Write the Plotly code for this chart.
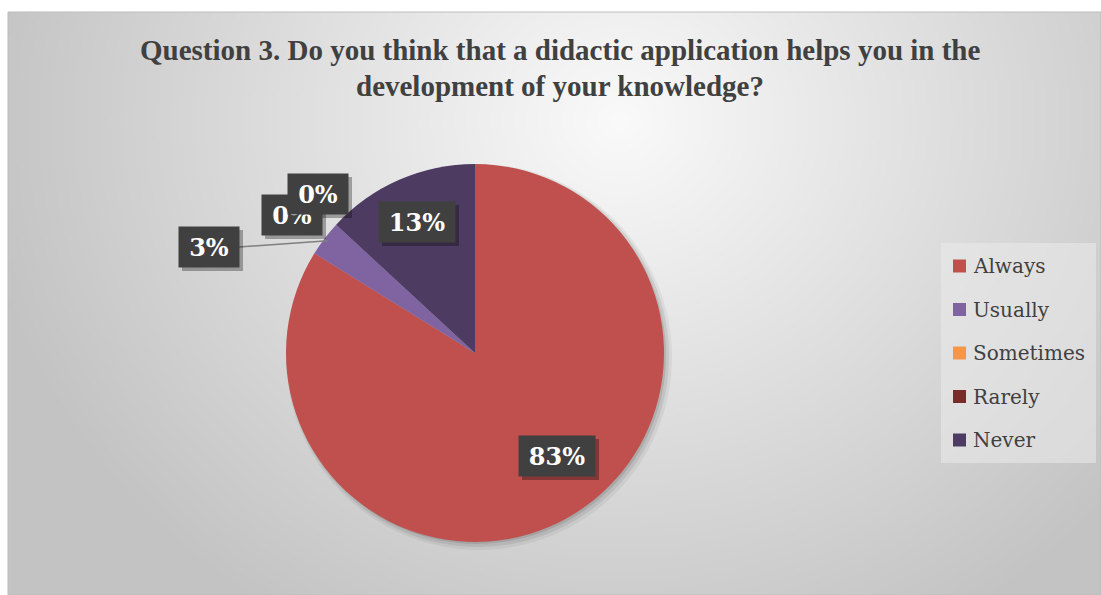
import base64
import struct
import zlib

import numpy as np
import plotly.graph_objects as go

# ---- data -------------------------------------------------------------
labels = ["Always", "Usually", "Sometimes", "Rarely", "Never"]
values = [83, 3, 0, 0, 13]
colors = ["#C0504D", "#8064A2", "#F79646", "#772C2A", "#4D3B62"]
title_lines = [
    "Question 3. Do you think that a didactic application helps you in the",
    "development of your knowledge?",
]

# ---- geometry helpers (pixel -> paper) --------------------------------
W, H = 1101, 595


def px(x):
    return x / W


def py(y):
    return 1 - y / H


CX, CY, R = 475, 353, 189          # pie centre / radius in px
FRAME = (8, 12, 1101, 595)          # chart area rectangle in px


# ---- radial grey background as an inline PNG --------------------------
def gradient_png(w, h):
    xs = np.linspace(FRAME[0], FRAME[2], w)
    ys = np.linspace(FRAME[1], FRAME[3], h)
    X, Y = np.meshgrid(xs, ys)
    t = np.sqrt(((X - 620) / 620) ** 2 + ((Y - 120) / 560) ** 2)
    v = np.clip(250 - 52 * t, 195, 255).astype(np.uint8)
    raw = b"".join(b"\x00" + row.tobytes() for row in v)

    def chunk(tag, data):
        c = struct.pack(">I", len(data)) + tag + data
        return c + struct.pack(">I", zlib.crc32(tag + data) & 0xFFFFFFFF)

    png = (b"\x89PNG\r\n\x1a\n"
           + chunk(b"IHDR", struct.pack(">IIBBBBB", w, h, 8, 0, 0, 0, 0))
           + chunk(b"IDAT", zlib.compress(raw, 9))
           + chunk(b"IEND", b""))
    return "data:image/png;base64," + base64.b64encode(png).decode()


bg_src = gradient_png(364, 194)

fig = go.Figure()

fig.add_trace(go.Pie(
    labels=labels,
    values=values,
    sort=False,
    direction="clockwise",
    rotation=0,
    marker=dict(colors=colors, line=dict(width=0)),
    textinfo="none",
    hoverinfo="skip",
    showlegend=False,
    domain=dict(x=[px(CX - R), px(CX + R)], y=[py(CY + R), py(CY - R)]),
))

shapes = []
annotations = []

# chart frame
shapes.append(dict(type="rect", xref="paper", yref="paper",
                   x0=px(FRAME[0]), x1=px(FRAME[2]), y0=py(FRAME[3]), y1=py(FRAME[1]),
                   line=dict(color="#BDBDBD", width=1), fillcolor="rgba(0,0,0,0)",
                   layer="below"))

# soft drop shadow under the pie
for grow, off, alpha in [(4, 4, 0.05), (2, 3, 0.08), (0, 2, 0.10)]:
    shapes.append(dict(type="circle", xref="paper", yref="paper",
                       x0=px(CX - R - grow + off), x1=px(CX + R + grow + off),
                       y0=py(CY + R + grow + off), y1=py(CY - R - grow + off),
                       line=dict(width=0), fillcolor=f"rgba(0,0,0,{alpha})",
                       layer="below"))

# title
for line, yc in zip(title_lines, [50, 86]):
    annotations.append(dict(text=f"<b>{line}</b>", xref="paper", yref="paper",
                            x=px(560), y=py(yc), xanchor="center", yanchor="middle",
                            showarrow=False,
                            font=dict(family="Liberation Serif", size=29, color="#404040")))

# ---- data labels --------------------------------------------------------
total = float(sum(values))
cum = np.concatenate([[0.0], np.cumsum(values)])
mid_angles = [(cum[i] + values[i] / 2) / total * 2 * np.pi for i in range(len(values))]

# box centres (px) for each label
LABEL_XY = [(557, 456), (209, 247), (292, 215), (318, 194), (417, 222)]
BOX_H = 40

# leader line from the small "Usually" label to its slice edge
a = mid_angles[1]
ex, ey = CX + 0.98 * R * np.sin(a), CY - 0.98 * R * np.cos(a)
lx, ly = LABEL_XY[1]
shapes.append(dict(type="line", xref="paper", yref="paper",
                   x0=px(lx + 30), y0=py(ly), x1=px(ex), y1=py(ey),
                   line=dict(color="#7F7F7F", width=1.5), layer="above"))

for i, (lab, val) in enumerate(zip(labels, values)):
    txt = f"{val}%"
    bx, by = LABEL_XY[i]
    bw = 76 if len(txt) == 3 else 60
    # box shadow
    shapes.append(dict(type="rect", xref="paper", yref="paper",
                       x0=px(bx - bw / 2 + 3), x1=px(bx + bw / 2 + 4),
                       y0=py(by + BOX_H / 2 + 4), y1=py(by - BOX_H / 2 + 3),
                       line=dict(width=0), fillcolor="rgba(0,0,0,0.30)", layer="above"))
    annotations.append(dict(text=f"<b>{txt}</b>", xref="paper", yref="paper",
                            x=px(bx), y=py(by), xanchor="center", yanchor="middle",
                            showarrow=False, width=bw - 10, height=BOX_H - 10, borderpad=5,
                            bgcolor="#404040",
                            font=dict(family="DejaVu Serif", size=24, color="#FFFFFF")))

# ---- legend -------------------------------------------------------------
shapes.append(dict(type="rect", xref="paper", yref="paper",
                   x0=px(941), x1=px(1096), y0=py(463), y1=py(243),
                   line=dict(width=0), fillcolor="rgba(235,235,235,0.55)", layer="below"))
for i, (lab, col) in enumerate(zip(labels, colors)):
    yc = 266 + 43.5 * i
    shapes.append(dict(type="rect", xref="paper", yref="paper",
                       x0=px(953), x1=px(966), y0=py(yc + 6.5), y1=py(yc - 6.5),
                       line=dict(width=0), fillcolor=col, layer="above"))
    annotations.append(dict(text=lab, xref="paper", yref="paper",
                            x=px(971), y=py(yc), xanchor="left", yanchor="middle",
                            showarrow=False,
                            font=dict(family="DejaVu Serif", size=20, color="#404040")))

fig.update_layout(
    width=W, height=H, autosize=False,
    margin=dict(l=0, r=0, t=0, b=0),
    paper_bgcolor="#FFFFFF",
    plot_bgcolor="rgba(0,0,0,0)",
    showlegend=False,
    shapes=shapes,
    annotations=annotations,
    images=[dict(source=bg_src, xref="paper", yref="paper",
                 x=px(FRAME[0]), y=py(FRAME[1]),
                 sizex=px(FRAME[2]) - px(FRAME[0]), sizey=py(FRAME[1]) - py(FRAME[3]),
                 xanchor="left", yanchor="top", sizing="stretch", layer="below")],
)

fig.write_html("out.html")
